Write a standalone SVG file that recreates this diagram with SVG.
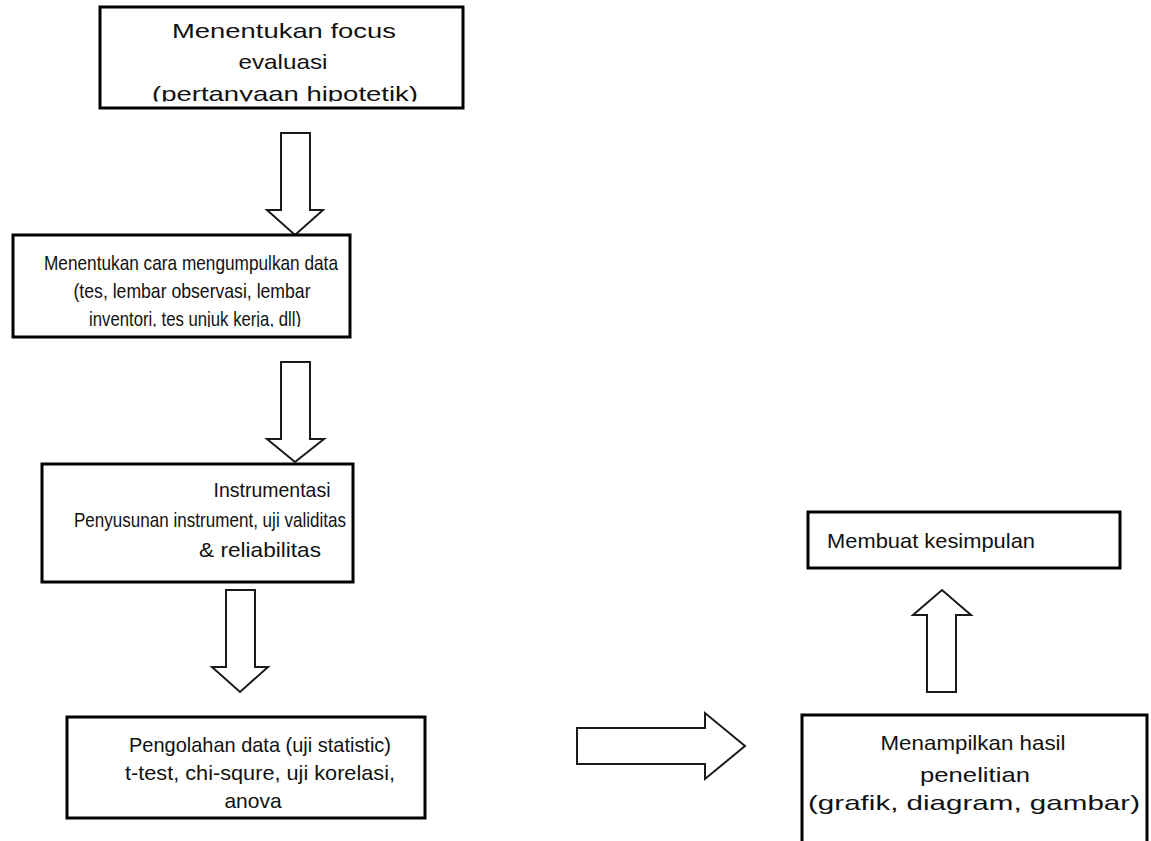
<svg xmlns="http://www.w3.org/2000/svg" width="1151" height="841" viewBox="0 0 1151 841">
  <style>
    .box { fill: #ffffff; stroke: #000000; stroke-width: 3; }
    .arrow { fill: #ffffff; stroke: #1a1a1a; stroke-width: 2; stroke-linejoin: miter; }
    .lbl { font-family: "Liberation Sans", Arial, sans-serif; font-size: 21px; fill: #111111; text-anchor: middle; }
  </style>
  <defs>
    <!-- the last line of the two upper boxes is cut off at its baseline -->
    <clipPath id="clip-focus"><rect x="101" y="8" width="361" height="93.5"/></clipPath>
    <clipPath id="clip-data"><rect x="14" y="236" width="335" height="91"/></clipPath>
  </defs>
  <rect width="1151" height="841" fill="#ffffff"/>

  <!-- flow arrows -->
  <g id="connectors">
    <polygon class="arrow" points="281,133 310,133 310,210 323,210 295,235 267,210 281,210"/>
    <polygon class="arrow" points="281,362 310,362 310,439 324,439 295,462 267,439 281,439"/>
    <polygon class="arrow" points="226,590 255,590 255,667 268,667 240,692 212,667 226,667"/>
    <polygon class="arrow" points="577,728 705,728 705,713 745,746 705,779 705,764 577,764"/>
    <polygon class="arrow" points="927,692 927,615 913,615 942,590 971,615 956,615 956,692"/>
  </g>

  <g id="node-focus">
    <rect class="box" x="100" y="7" width="363" height="101"/>
    <g clip-path="url(#clip-focus)">
      <text class="lbl" x="284" y="38" textLength="224" lengthAdjust="spacingAndGlyphs">Menentukan focus</text>
      <text class="lbl" x="283" y="69" textLength="89" lengthAdjust="spacingAndGlyphs">evaluasi</text>
      <text class="lbl" x="285" y="101" textLength="266" lengthAdjust="spacingAndGlyphs">(pertanyaan hipotetik)</text>
    </g>
  </g>

  <g id="node-data">
    <rect class="box" x="13" y="235" width="337" height="102"/>
    <g clip-path="url(#clip-data)">
      <text class="lbl" x="191" y="270" textLength="294" lengthAdjust="spacingAndGlyphs">Menentukan cara mengumpulkan data</text>
      <text class="lbl" x="192" y="298" textLength="237" lengthAdjust="spacingAndGlyphs">(tes, lembar observasi, lembar</text>
      <text class="lbl" x="195" y="326" textLength="212" lengthAdjust="spacingAndGlyphs">inventori, tes unjuk kerja, dll)</text>
    </g>
  </g>

  <g id="node-instrumentasi">
    <rect class="box" x="42" y="464" width="311" height="118"/>
    <text class="lbl" x="272" y="497" textLength="117" lengthAdjust="spacingAndGlyphs">Instrumentasi</text>
    <text class="lbl" x="210" y="527" textLength="272" lengthAdjust="spacingAndGlyphs">Penyusunan instrument, uji validitas</text>
    <text class="lbl" x="260" y="557" textLength="122" lengthAdjust="spacingAndGlyphs">&amp; reliabilitas</text>
  </g>

  <g id="node-pengolahan">
    <rect class="box" x="67" y="717" width="358" height="101"/>
    <text class="lbl" x="260" y="752" textLength="262" lengthAdjust="spacingAndGlyphs">Pengolahan data (uji statistic)</text>
    <text class="lbl" x="260" y="780" textLength="270" lengthAdjust="spacingAndGlyphs">t-test, chi-squre, uji korelasi,</text>
    <text class="lbl" x="253" y="808">anova</text>
  </g>

  <g id="node-hasil">
    <rect class="box" x="802" y="715" width="345" height="140"/>
    <text class="lbl" x="973" y="750" textLength="185" lengthAdjust="spacingAndGlyphs">Menampilkan hasil</text>
    <text class="lbl" x="975" y="782" textLength="110" lengthAdjust="spacingAndGlyphs">penelitian</text>
    <text class="lbl" x="974" y="810" textLength="332" lengthAdjust="spacingAndGlyphs">(grafik, diagram, gambar)</text>
  </g>

  <g id="node-kesimpulan">
    <rect class="box" x="808" y="512" width="312" height="56"/>
    <text class="lbl" x="931" y="548" textLength="208" lengthAdjust="spacingAndGlyphs">Membuat kesimpulan</text>
  </g>
</svg>
